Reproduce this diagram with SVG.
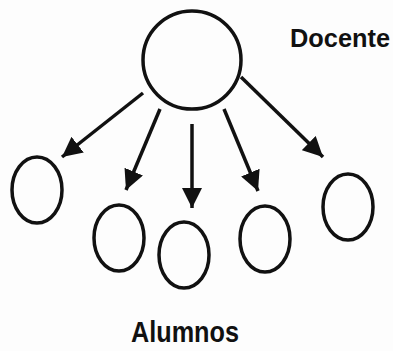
<svg xmlns="http://www.w3.org/2000/svg" width="393" height="351" viewBox="0 0 393 351">
<defs>
<marker id="ah" viewBox="0 0 10 10" refX="10" refY="5" markerWidth="5.7" markerHeight="5.7" markerUnits="strokeWidth" orient="auto">
<path d="M0,0 L10,5 L0,10 z" fill="#111"/>
</marker>
<style>
.n{fill:none;stroke:#111;stroke-width:3.5}
.c{stroke:#111;stroke-width:3.5;fill:none;marker-end:url(#ah)}
.t{font-family:"Liberation Sans",Arial,sans-serif;font-weight:bold;fill:#111}
</style>
</defs>
<rect width="393" height="351" fill="#fdfdfd"/>
<g id="docente">
<circle class="n" cx="192" cy="60" r="49"/>
<text class="t" x="290" y="47" font-size="25" textLength="100" lengthAdjust="spacingAndGlyphs">Docente</text>
</g>
<g id="alumno1"><ellipse class="n" cx="37" cy="190" rx="25" ry="33"/></g>
<g id="alumno2"><ellipse class="n" cx="119" cy="238" rx="25" ry="33"/></g>
<g id="alumno3"><ellipse class="n" cx="184" cy="255" rx="25" ry="33"/></g>
<g id="alumno4"><ellipse class="n" cx="265" cy="239" rx="25" ry="33"/></g>
<g id="alumno5"><ellipse class="n" cx="348" cy="207" rx="25" ry="33"/></g>
<g id="alumnos-label">
<text class="t" x="131" y="342" font-size="29" textLength="108" lengthAdjust="spacingAndGlyphs">Alumnos</text>
</g>
<g id="connectors">
<line class="c" x1="143" y1="93" x2="62" y2="157"/>
<line class="c" x1="160" y1="109" x2="126" y2="190"/>
<line class="c" x1="192" y1="124" x2="192" y2="208"/>
<line class="c" x1="224" y1="109" x2="258" y2="191"/>
<line class="c" x1="241" y1="77" x2="323" y2="157"/>
</g>
</svg>
